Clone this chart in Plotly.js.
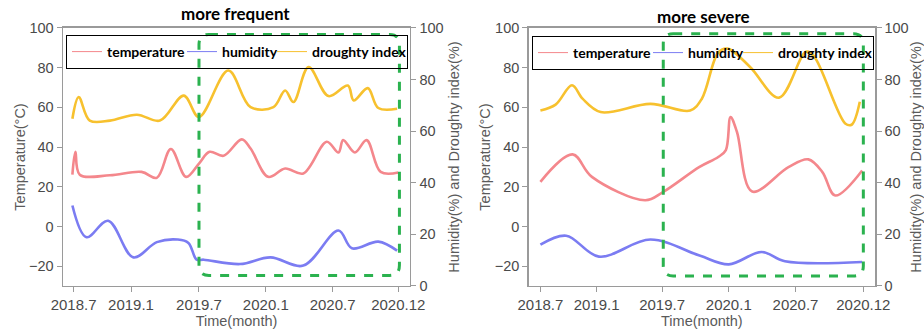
<!DOCTYPE html>
<html>
<head>
<meta charset="utf-8">
<script src="https://cdn.plot.ly/plotly-3.0.1.min.js"></script>
<style>html,body{margin:0;padding:0;background:#fff;}#chart{width:924px;height:329px;}</style>
</head>
<body>
<div id="chart"></div>
<script>
// ---- tick labels (time axis) ----
const tickLabels = ["2018.7", "2019.1", "2019.7", "2020.1", "2020.7", "2020.12"];
const tickPosA = [1.3, 6.2, 12, 17.7, 23.4, 29.0];
const tickPosB = [1.6, 6.4, 12, 17.7, 23.4, 29.2];

// ---- panel A: "more frequent" ----
const tempA_x = [1.2, 1.46, 1.83, 4.4, 7.1, 8.4, 9.6, 10.9, 12.0, 12.9, 14.1, 15.65, 16.4, 17.9, 19.35, 20.9, 22.9, 23.9, 24.3, 25.3, 26.3, 27.5, 29.0];
const tempA_y = [26.1, 37.6, 26.1, 25.8, 27.5, 24.5, 39.0, 25.0, 31.7, 37.6, 35.6, 43.9, 39.3, 25.0, 29.2, 26.7, 42.7, 37.3, 43.5, 37.3, 43.5, 27.5, 27.2];
const humA_x = [1.2, 2.4, 4.25, 6.4, 8.4, 10.2, 11.1, 11.8, 12.4, 15.5, 18.1, 20.9, 23.9, 25.05, 27.3, 28.9];
const humA_y = [31.2, 18.9, 25.3, 11.1, 17.0, 18.0, 16.7, 10.2, 10.2, 8.5, 11.1, 7.9, 21.5, 14.6, 17.2, 13.7];
const droA_x = [1.2, 1.74, 2.68, 4.4, 6.7, 8.67, 10.7, 12.0, 14.5, 16.4, 18.35, 19.35, 20.06, 21.35, 23.05, 24.7, 25.2, 26.4, 27.3, 28.9];
const droA_y = [64.8, 73.2, 64.1, 64.1, 66.4, 64.1, 73.8, 65.5, 83.5, 69.3, 69.3, 75.8, 71.3, 84.9, 73.6, 77.7, 71.9, 76.7, 69.0, 68.7];

// ---- panel B: "more severe" ----
const tempB_x = [1.6, 4.35, 6.0, 10.56, 12.1, 15.2, 16.8, 17.45, 17.85, 18.4, 19.7, 22.8, 24.5, 25.7, 26.8, 29.1];
const tempB_y = [22.5, 36.3, 25.0, 13.2, 17.4, 30.0, 35.0, 38.5, 55.1, 47.6, 17.6, 29.9, 33.8, 27.4, 15.6, 28.2];
const humB_x = [1.6, 3.8, 6.6, 11.0, 15.2, 17.7, 20.5, 22.5, 29.1];
const humB_y = [16.0, 19.5, 11.4, 18.0, 11.8, 8.4, 13.2, 9.6, 9.3];
const droB_x = [1.6, 2.9, 4.3, 5.2, 6.75, 11.0, 14.4, 15.4, 16.8, 17.6, 19.5, 22.0, 24.3, 25.0, 27.65, 28.2, 28.9];
const droB_y = [68.0, 70.3, 77.8, 72.6, 67.4, 70.6, 68.0, 72.6, 90.5, 92.0, 85.0, 73.0, 90.8, 88.9, 63.0, 62.5, 71.4];

const seriesNames = ["temperature", "humidity", "droughty index"];

// ---- highlight boxes (x range in months, y range on right axis) ----
const boxA = [12.0, 29.1, 4.1, 97.5];
const boxB = [12.1, 29.2, 3.9, 97.8];

const RED = "#f4878c", BLUE = "#7b7cf2", YEL = "#f7c12e", GREEN = "#2bb24f";
const COLORS = [RED, BLUE, YEL];
const LEGW = [70, 45, 90];
const LW = 2.6;

function tr(x, y, color, xa, ya) {
  return {x: x, y: y, type: "scatter", mode: "lines", showlegend: false,
    line: {color: color, width: LW, shape: "spline", smoothing: 1},
    xaxis: xa, yaxis: ya, hoverinfo: "skip"};
}
function legTr(i, xa, ya, leg) {
  return {x: [null], y: [null], name: seriesNames[i], type: "scatter", mode: "lines",
    line: {color: COLORS[i], width: 1}, xaxis: xa, yaxis: ya, legend: leg, showlegend: true,
    legendwidth: LEGW[i]};
}

const data = [
  tr(tempA_x, tempA_y, RED, "x", "y"),
  tr(humA_x, humA_y, BLUE, "x", "y2"),
  tr(droA_x, droA_y, YEL, "x", "y2"),
  tr(tempB_x, tempB_y, RED, "x2", "y3"),
  tr(humB_x, humB_y, BLUE, "x2", "y4"),
  tr(droB_x, droB_y, YEL, "x2", "y4"),
  legTr(0, "x", "y", "legend"), legTr(1, "x", "y2", "legend"), legTr(2, "x", "y2", "legend"),
  legTr(0, "x2", "y3", "legend2"), legTr(1, "x2", "y4", "legend2"), legTr(2, "x2", "y4", "legend2")
];

function rrect(b, rx, ry) {
  const [x0, x1, y0, y1] = b;
  return `M ${x0+rx},${y1} L ${x1-rx},${y1} Q ${x1},${y1} ${x1},${y1-ry} L ${x1},${y0+ry} Q ${x1},${y0} ${x1-rx},${y0} L ${x0+rx},${y0} Q ${x0},${y0} ${x0},${y0+ry} L ${x0},${y1-ry} Q ${x0},${y1} ${x0+rx},${y1} Z`;
}

const AX = "#9a9a9a";
const XTF = {family: "Liberation Sans, Arial, sans-serif", size: 15, color: "#4a4a4a"};
const YTF = {family: "Liberation Sans, Arial, sans-serif", size: 14.5, color: "#4a4a4a"};
const TTF = {family: "Liberation Sans, Arial, sans-serif", size: 14.5, color: "#5a5a5a"};

function xax(dom, rng, tickpos, anchor) {
  return {domain: dom, range: rng, anchor: anchor, tickmode: "array", tickvals: tickpos, ticktext: tickLabels,
    ticks: "outside", ticklen: 5, tickcolor: AX, showline: true, linecolor: AX, linewidth: 1.5, mirror: true,
    showgrid: false, zeroline: false, tickfont: XTF, automargin: false,
    title: {text: "Time(month)", font: TTF, standoff: 2}};
}
function yl(xa) {
  return {domain: [0.1307, 0.9149], range: [-30, 100], anchor: xa, tickvals: [-20, 0, 20, 40, 60, 80, 100],
    ticks: "outside", ticklen: 5, tickcolor: AX, showline: true, linecolor: AX, linewidth: 1.5,
    showgrid: false, zeroline: false, tickfont: YTF, automargin: false,
    title: {text: "Temperature(°C)", font: TTF, standoff: 0}};
}
function yr(xa, ov) {
  return {domain: [0.1307, 0.9149], range: [0, 100], anchor: xa, overlaying: ov, side: "right",
    tickvals: [0, 20, 40, 60, 80, 100], ticks: "outside", ticklen: 5, tickcolor: AX,
    showline: true, linecolor: AX, linewidth: 1.5, showgrid: false, zeroline: false, tickfont: YTF, automargin: false,
    title: {text: "Humidity(%) and Droughty index(%)", font: TTF, standoff: 6}};
}

const LEGF = {family: "Lato, sans-serif", size: 14, color: "#000", weight: "bold"};
const TITF = {family: "Lato, sans-serif", size: 17, color: "#000", weight: "bold"};

const layout = {
  width: 924, height: 329, margin: {l: 0, r: 0, t: 0, b: 0, autoexpand: false},
  paper_bgcolor: "#fff", plot_bgcolor: "#fff", showlegend: true,
  xaxis: xax([0.0682, 0.4437], [0.4, 30.0], tickPosA, "y"),
  yaxis: yl("x"),
  yaxis2: yr("x", "y"),
  xaxis2: xax([0.5722, 0.947], [0.6, 30.2], tickPosB, "y3"),
  yaxis3: yl("x2"),
  yaxis4: yr("x2", "y3"),
  legend: {x: 66/924, y: 1 - 35/329, xanchor: "left", yanchor: "top", orientation: "h",
    bgcolor: "rgba(0,0,0,0)", bordercolor: "#000", borderwidth: 1, font: LEGF, itemwidth: 30},
  legend2: {x: 532/924, y: 1 - 36/329, xanchor: "left", yanchor: "top", orientation: "h",
    bgcolor: "rgba(0,0,0,0)", bordercolor: "#000", borderwidth: 1, font: LEGF, itemwidth: 30},
  shapes: [
    {type: "path", xref: "x", yref: "y2", path: rrect(boxA, 0.85, 3.9), line: {color: GREEN, width: 3, dash: "dash"}, layer: "above"},
    {type: "path", xref: "x2", yref: "y4", path: rrect(boxB, 0.85, 3.9), line: {color: GREEN, width: 3, dash: "dash"}, layer: "above"}
  ],
  annotations: [
    {text: "more frequent", xref: "paper", yref: "paper", x: 235/924, y: 1 - 14/329, xanchor: "center", yanchor: "middle", showarrow: false, font: TITF},
    {text: "more severe", xref: "paper", yref: "paper", x: 703/924, y: 1 - 16/329, xanchor: "center", yanchor: "middle", showarrow: false, font: TITF}
  ]
};

Plotly.newPlot("chart", data, layout, {displayModeBar: false, staticPlot: true});
</script>
</body>
</html>
